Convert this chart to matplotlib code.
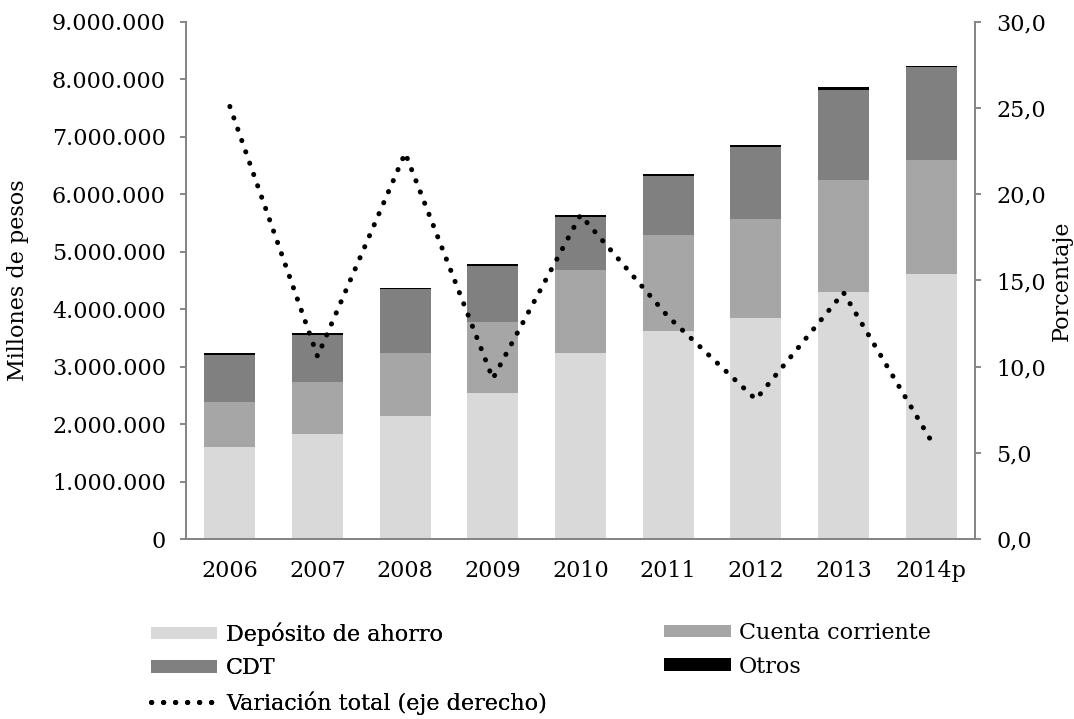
import matplotlib
matplotlib.use("Agg")
import matplotlib.pyplot as plt
import numpy as np

years = ["2006", "2007", "2008", "2009", "2010", "2011", "2012", "2013", "2014p"]

# millones de pesos
ahorro = [1600000, 1830000, 2140000, 2550000, 3240000, 3620000, 3850000, 4300000, 4610000]
cuenta = [790000, 900000, 1100000, 1230000, 1440000, 1670000, 1720000, 1950000, 1990000]
cdt = [820000, 820000, 1110000, 970000, 930000, 1030000, 1260000, 1570000, 1610000]
otros = [30000, 30000, 20000, 30000, 30000, 30000, 30000, 40000, 30000]

# porcentaje
variacion = [25.1, 10.6, 22.4, 9.3, 18.8, 12.9, 8.1, 14.3, 5.7]

plt.rcParams['font.family'] = ['DejaVu Serif']
FS = 16

W, H = 1074, 719
fig = plt.figure(figsize=(W / 100, H / 100), dpi=100)
ax = fig.add_axes([186/W, 1 - 539/H, (975-186)/W, (539-22)/H])
ax2 = ax.twinx()

x = np.arange(len(years))
w = 0.58
b1 = np.array(ahorro)
b2 = b1 + np.array(cuenta)
b3 = b2 + np.array(cdt)

h1 = ax.bar(x, ahorro, w, color='#d9d9d9', label='Depósito de ahorro')
h2 = ax.bar(x, cuenta, w, bottom=b1, color='#a6a6a6', label='Cuenta corriente')
h3 = ax.bar(x, cdt, w, bottom=b2, color='#808080', label='CDT')
h4 = ax.bar(x, otros, w, bottom=b3, color='black', label='Otros')

l1, = ax2.plot(x, variacion, color='black', lw=3.6, linestyle=(0, (0.05, 2.35)),
               dash_capstyle='round', label='Variación total (eje derecho)')

ax.set_xlim(-0.5, len(years) - 0.5)
ax.set_ylim(0, 9000000)
ax.set_yticks(np.arange(0, 9000001, 1000000))
ax.set_yticklabels(['0'] + ['{:,}'.format(v).replace(',', '.') for v in range(1000000, 9000001, 1000000)])
ax2.set_ylim(0, 30)
ax2.set_yticks(np.arange(0, 31, 5))
ax2.set_yticklabels(['{:.1f}'.format(v).replace('.', ',') for v in range(0, 31, 5)])

ax.set_xticks(x)
ax.set_xticklabels(years)

for a in (ax, ax2):
    a.spines['top'].set_visible(False)
    for s in ('left', 'right', 'bottom'):
        a.spines[s].set_color('#868686')
        a.spines[s].set_linewidth(1.4)
    a.tick_params(axis='x', length=0, labelsize=FS, pad=15)
ax.tick_params(axis='y', colors='#868686', labelcolor='black', labelsize=FS, length=4.5, width=1.4, pad=10)
ax2.tick_params(axis='y', colors='#868686', labelcolor='black', labelsize=FS, length=4.5, width=1.4, pad=11)

ax.set_ylabel('Millones de pesos', fontsize=FS)
ax.yaxis.set_label_coords((29-186)/789, 0.5)
ax2.set_ylabel('Porcentaje', fontsize=FS)
ax2.yaxis.set_label_coords((1051-186)/789, 0.5)

common = dict(frameon=False, fontsize=FS, handlelength=3.0, handleheight=0.5,
              handletextpad=0.38, labelspacing=0.52, borderpad=0, borderaxespad=0)
leg1 = fig.legend(handles=[h1, h3, l1], loc='center left',
                  bbox_to_anchor=(150.7/W, 1 - 668.5/H), **common)
fig.add_artist(leg1)
fig.legend(handles=[h2, h4], loc='center left',
           bbox_to_anchor=(664/W, 1 - 649.8/H), **common)

fig.savefig('out.png', dpi=100)
